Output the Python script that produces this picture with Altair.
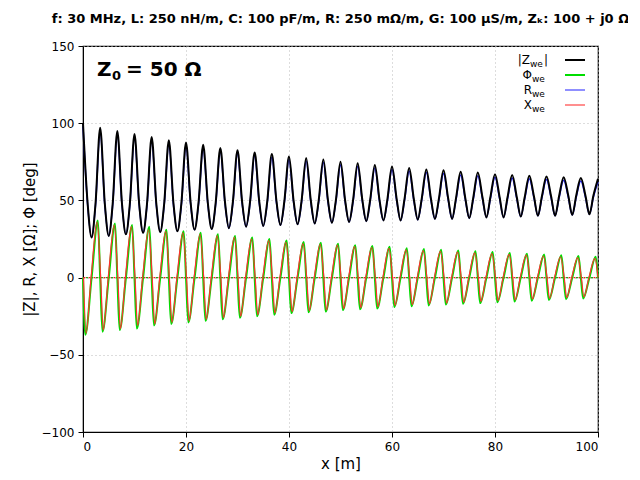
import altair as alt
import pandas as pd

half_wave = 10 / 3  # m between |Z| maxima

# |Z| maxima at x = 0, 3.33, 6.67, ... 100 and minima halfway between
z_max = [100, 97, 95, 93, 91, 89, 87.5, 86, 84, 82.5, 81, 80, 78.5, 77.5, 76.5,
         75, 74, 73, 72, 71, 70, 69.5, 68.5, 68, 67, 66.5, 66, 65.5, 65, 64.5, 64]
z_min = [26, 27, 28, 29, 29.5, 30, 31, 31.5, 32, 33, 33.5, 34, 34.5, 35, 35.5,
         36, 36.5, 37, 37, 37.5, 38, 38, 38.5, 39, 39, 39.5, 40, 40, 40.5, 41]
# |Z| on the flanks, 0.9 m either side of a maximum
z_flank = [48, 48, 48, 48, 48, 48, 48.5, 48.5, 49, 49, 49, 49.5, 49.5, 50, 50,
           50, 50.5, 50.5, 51, 51, 51, 51.5, 51.5, 52, 52, 52, 52.5, 52.5, 53, 53]
# swing amplitude of the phase and of X in each half wave
phi_amp = [37, 35, 34, 33, 31, 30, 29, 28, 27, 26, 25, 24, 23, 22.5, 22, 21,
           20.5, 20, 19, 18.5, 18, 17.5, 17, 16.5, 16, 15.5, 15, 14.5, 14, 13.5]
x_amp = [36, 34, 33, 31, 30, 29, 28, 27, 26, 25, 24, 23, 22, 21.5, 21, 20,
         19.5, 19, 18, 17.5, 17, 16.5, 16, 15.5, 15, 14.5, 14, 13.5, 13, 12.5]

rows = []
for k in range(30):
    x0 = k * half_wave
    rows += [
        ("|Z|", x0, z_max[k]), ("|Z|", x0 + 0.9, z_flank[k]),
        ("|Z|", x0 + half_wave / 2, z_min[k]), ("|Z|", x0 + half_wave - 0.9, z_flank[k]),
        ("R", x0, z_max[k] - 2), ("R", x0 + 0.9, z_flank[k] - 1),
        ("R", x0 + half_wave / 2, z_min[k]), ("R", x0 + half_wave - 0.9, z_flank[k] - 1),
        ("Phi", x0, 0), ("Phi", x0 + 0.45, -phi_amp[k]),
        ("Phi", x0 + half_wave / 2, 0), ("Phi", x0 + half_wave - 0.45, phi_amp[k]),
        ("X", x0 + 0.1, 0), ("X", x0 + 0.6, -x_amp[k]),
        ("X", x0 + half_wave / 2 - 0.1, 0), ("X", x0 + half_wave - 0.6, x_amp[k]),
    ]
rows += [("|Z|", 100, z_max[30]), ("R", 100, z_max[30] - 2), ("Phi", 100, 0), ("X", 100, 0)]
df = pd.DataFrame(rows, columns=["series", "x", "y"])

W, H = 515, 386
xs = alt.Scale(domain=[0, 100], nice=False)
ys = alt.Scale(domain=[-100, 150], nice=False)
x_ax = alt.Axis(values=list(range(0, 101, 20)), title="x [m]", gridDash=[1, 3], gridColor="#bbb",
                tickSize=5, labelPadding=4, domainColor="black", titleFontSize=15,
                titleFontWeight="normal", labelFontSize=12)
y_ax = alt.Axis(values=list(range(-100, 151, 50)), title="|Z|, R, X [Ω]; Φ [deg]", gridDash=[1, 3],
                gridColor="#bbb", tickSize=5, labelPadding=4, domainColor="black",
                titleFontSize=15, titleFontWeight="normal", labelFontSize=12)


def line(name, colour, width):
    return alt.Chart(df[df.series == name]).mark_line(
        color=colour, strokeWidth=width, interpolate="monotone").encode(
        x=alt.X("x:Q", scale=xs, axis=x_ax), y=alt.Y("y:Q", scale=ys, axis=y_ax))


def label(text, x, y, size=12, align="left", bold=False):
    return alt.Chart(pd.DataFrame({"t": [text]})).mark_text(
        align=align, fontSize=size, font="DejaVu Sans",
        fontWeight="bold" if bold else "normal").encode(
        text="t:N", x=alt.value(x), y=alt.value(y))


zero = alt.Chart(pd.DataFrame({"y": [0]})).mark_rule(
    color="#2a2", strokeDash=[2, 3], strokeWidth=1.2).encode(y=alt.Y("y:Q", scale=ys))
zero2 = alt.Chart(pd.DataFrame({"y": [0]})).mark_rule(
    color="#e22", strokeDash=[2, 3], strokeDashOffset=2.5, strokeWidth=1.2).encode(y=alt.Y("y:Q", scale=ys))

layers = [zero, zero2, line("R", "#2222ff", 1.5), line("|Z|", "black", 2),
          line("Phi", "#00dd00", 2), line("X", "#ff3030", 1.2)]

# legend
leg_colours = ["black", "#00dd00", "#4444ff", "#ff4444"]
leg_main = ["|Z", "Φ", "R", "X"]
leg_y = [14, 29, 44, 59]
for i in range(4):
    y = leg_y[i]
    main_x = 447 if i == 0 else 449
    layers.append(label(leg_main[i], main_x, y, align="right"))
    layers.append(label("we", main_x, y + 4, size=9))
    if i == 0:
        layers.append(label("|", 461, y))
    layers.append(alt.Chart(pd.DataFrame({"a": [0]})).mark_rule(
        color=leg_colours[i], strokeWidth=2 if i < 2 else 1.2).encode(
        x=alt.value(482), x2=alt.value(502), y=alt.value(y)))

layers += [label("Z", 14, 24, size=20, bold=True), label("0", 29, 30, size=13, bold=True),
           label("= 50 Ω", 43, 24, size=20, bold=True)]

chart = alt.layer(*layers).properties(
    width=W, height=H,
    title=alt.TitleParams("f: 30 MHz, L: 250 nH/m, C: 100 pF/m, R: 250 mΩ/m, G: 100 μS/m, Zₖ: 100 + j0 Ω",
                          fontSize=13, fontWeight="bold", font="DejaVu Sans", offset=14),
    autosize="none", padding={"left": 75, "top": 38, "right": 30, "bottom": 40},
).configure_view(stroke="black", strokeWidth=1.2).configure_axis(
    labelFont="DejaVu Sans", titleFont="DejaVu Sans", labelColor="black", titleColor="black",
    tickColor="black")

chart.save("out.html", embed_options={"renderer": "svg", "actions": False})
